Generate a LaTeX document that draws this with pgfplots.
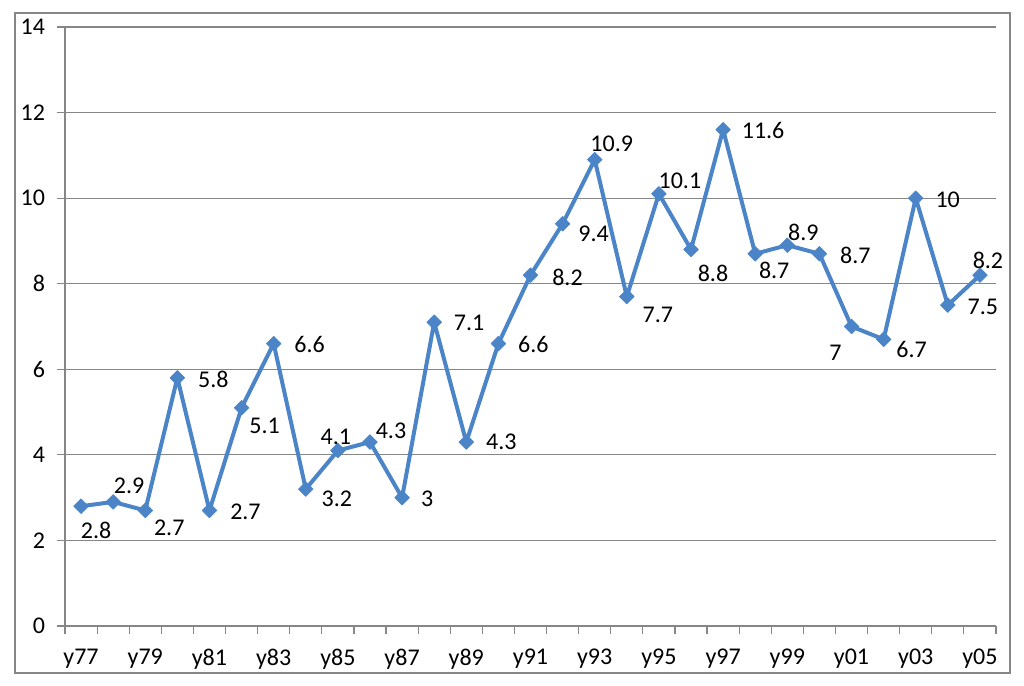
\documentclass[border=0pt]{standalone}
\usepackage{pgfplots}
\pgfplotsset{compat=1.18}
\usepackage{pgfplotstable}
\usepackage{fontspec}
\setmainfont{Carlito}
\definecolor{lineblue}{RGB}{76,132,200}
\definecolor{gridgray}{RGB}{134,134,134}
\pgfplotstableread{
x y lab dx dy
0 2.8 2.8 15 24
1 2.9 2.9 16 -16
2 2.7 2.7 24 17
3 5.8 5.8 36 2
4 2.7 2.7 36 1
5 5.1 5.1 23 18
6 6.6 6.6 36 1
7 3.2 3.2 31 10
8 4.1 4.1 -2 -14
9 4.3 4.3 21 -11
10 3 3 25 1
11 7.1 7.1 35 1
12 4.3 4.3 35 0
13 6.6 6.6 35 1
14 8.2 8.2 37 2
15 9.4 9.4 31 10
16 10.9 10.9 17 -16
17 7.7 7.7 31 18
18 10.1 10.1 21 -13
19 8.8 8.8 22 24
20 11.6 11.6 40 1
21 8.7 8.7 19 17
22 8.9 8.9 16 -13
23 8.7 8.7 36 2
24 7 7 -16 26
25 6.7 6.7 28 10
26 10 10 32 2
27 7.5 7.5 35 2
28 8.2 8.2 8 -15
}\data
\begin{document}
\begin{tikzpicture}
\path[use as bounding box] (0,0) rectangle (512pt,343pt);
\draw[gridgray, line width=1.1pt] (7.5pt,6.5pt) rectangle (505pt,336.5pt);
\begin{axis}[
  at={(32.5pt,30pt)}, anchor=south west,
  scale only axis, width=465.5pt, height=299.5pt,
  xmin=-0.5, xmax=28.5, ymin=0, ymax=14,
  ytick={0,2,...,14},
  xtick={-0.5,0.5,...,28.5},
  x tick label as interval,
  xticklabels={y77,,y79,,y81,,y83,,y85,,y87,,y89,,y91,,y93,,y95,,y97,,y99,,y01,,y03,,y05},
  axis x line*=bottom, axis y line*=left,
  axis line style={draw=gridgray, line width=0.6pt},
  tick align=outside, major tick length=4pt,
  tick style={draw=gridgray, line width=0.6pt},
  ymajorgrids, grid style={draw=gridgray, line width=0.6pt},
  /pgf/number format/assume math mode=true,
  ticklabel style={font=\fontsize{12}{14}\selectfont, text=black},
  xticklabel style={yshift=-4pt},
  yticklabel style={xshift=-2.5pt},
  clip=false,
]
\addplot[lineblue, line width=2pt, line join=round,
  mark=square*, mark size=2.6pt,
  mark options={rotate=45, solid, fill=lineblue, draw=lineblue, line width=0.3pt},
  point meta=explicit symbolic,
  visualization depends on={\thisrow{dx}*0.5 \as \dx},
  visualization depends on={\thisrow{dy}*(-0.5) \as \dy},
  nodes near coords,
  nodes near coords style={anchor=center, inner sep=0pt, font=\fontsize{12}{14}\selectfont, text=black, xshift=\dx pt, yshift=\dy pt},
] table[x=x, y=y, meta=lab] {\data};
\end{axis}
\end{tikzpicture}
\end{document}
